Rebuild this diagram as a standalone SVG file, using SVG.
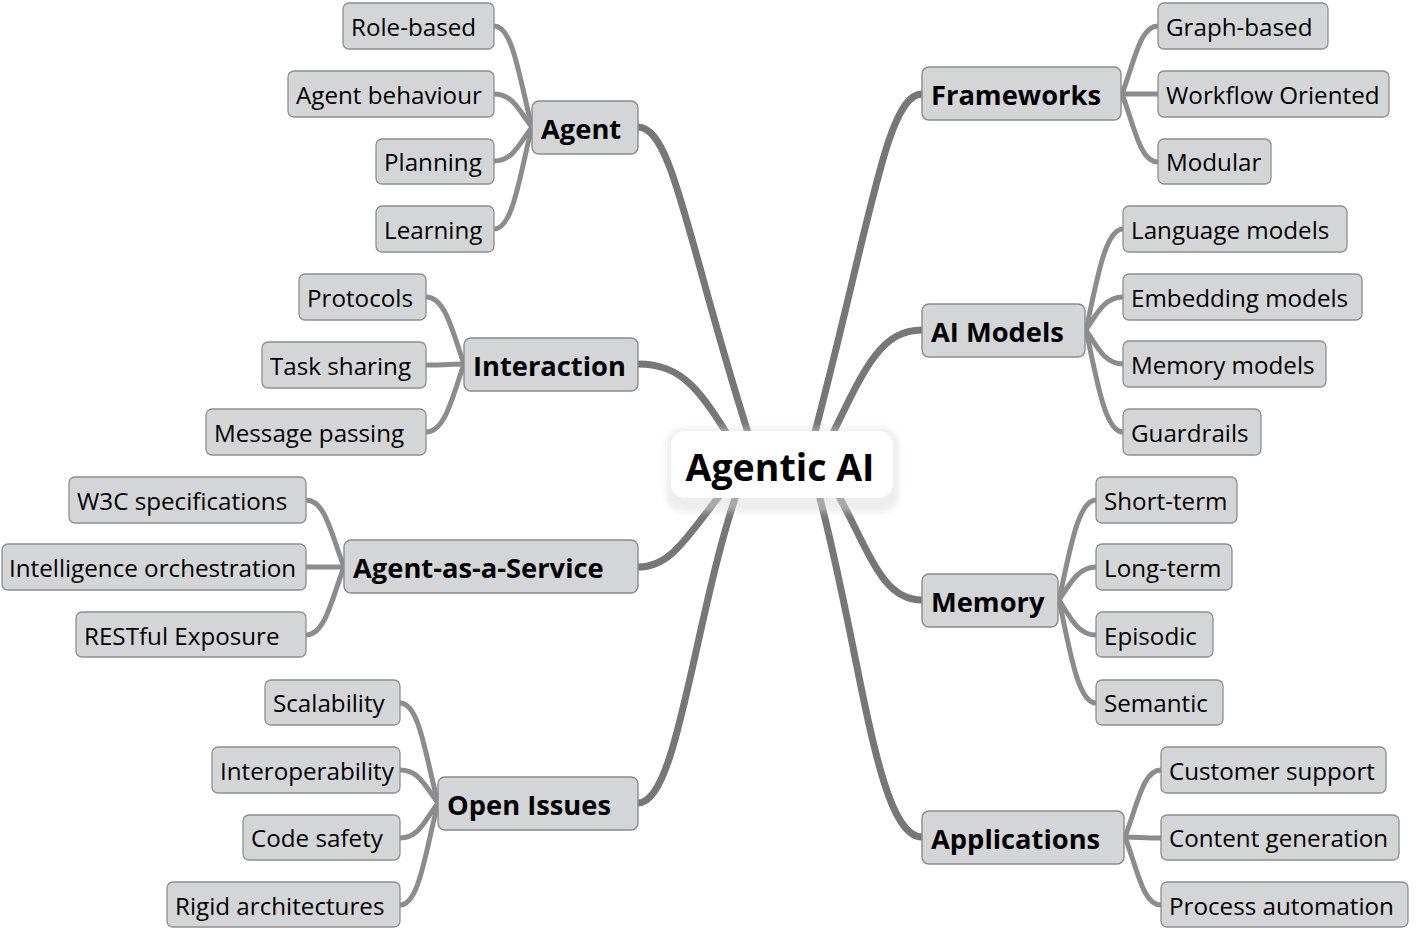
<svg xmlns="http://www.w3.org/2000/svg" width="1420" height="936" viewBox="0 0 1420 936">
<style>
.bg{fill:#ffffff}
.leaf rect{fill:#d4d5d7;stroke:#8f8f8f;stroke-width:1.3}
.leaf text{font-family:"Open Sans","Noto Sans",sans-serif;font-size:24.2px;fill:#000}
.branch rect{fill:#d4d5d7;stroke:#8a8a8a;stroke-width:1.4}
.branch text{font-family:"Open Sans","Noto Sans",sans-serif;font-size:27.3px;font-weight:bold;fill:#000}
.main{fill:none;stroke:#777777;stroke-width:7;stroke-linecap:round}
.sub{fill:none;stroke:#8c8c8c;stroke-width:5;stroke-linecap:round}
.center text{font-family:"Open Sans","Noto Sans",sans-serif;font-size:37.5px;font-weight:bold;fill:#000}
</style>
<defs>
<filter id="soft" x="-20%" y="-30%" width="140%" height="170%">
<feGaussianBlur stdDeviation="3"/>
</filter>
</defs>
<rect class="bg" x="0" y="0" width="1420" height="936"/>
<g id="connectors">
<path class="main" d="M638 127 C675 127 690 260 760 470"/>
<path class="main" d="M638 364 C690 364 705 400 750 470"/>
<path class="main" d="M638 567 C675 567 690 530 740 470"/>
<path class="main" d="M638 803 C680 803 695 600 745 470"/>
<path class="main" d="M922 94 C885 94 870 230 805 470"/>
<path class="main" d="M922 330 C875 330 860 380 815 470"/>
<path class="main" d="M922 600 C880 600 870 550 830 480"/>
<path class="main" d="M922 837 C875 837 860 640 815 480"/>
<path class="sub" d="M532 127 C519 77 513 26 494 26"/>
<path class="sub" d="M532 127 C519 111 513 94 494 94"/>
<path class="sub" d="M532 127 C519 144 513 161 494 161"/>
<path class="sub" d="M532 127 C519 178 513 229 494 229"/>
<path class="sub" d="M464 364 C452 330 445 297 426 297"/>
<path class="sub" d="M464 364 C452 364 445 365 426 365"/>
<path class="sub" d="M464 364 C452 398 445 432 426 432"/>
<path class="sub" d="M344 567 C331 533 325 500 306 500"/>
<path class="sub" d="M344 567 C331 567 325 567 306 567"/>
<path class="sub" d="M344 567 C331 601 325 635 306 635"/>
<path class="sub" d="M438 803 C425 753 419 703 400 703"/>
<path class="sub" d="M438 803 C425 786 419 770 400 770"/>
<path class="sub" d="M438 803 C425 820 419 838 400 838"/>
<path class="sub" d="M438 803 C425 854 419 905 400 905"/>
<path class="sub" d="M1122 94 C1135 60 1140 26 1158 26"/>
<path class="sub" d="M1122 94 C1135 94 1140 94 1158 94"/>
<path class="sub" d="M1122 94 C1135 128 1140 162 1158 162"/>
<path class="sub" d="M1086 330 C1097 280 1105 229 1123 229"/>
<path class="sub" d="M1086 330 C1097 313 1105 297 1123 297"/>
<path class="sub" d="M1086 330 C1097 347 1105 364 1123 364"/>
<path class="sub" d="M1086 330 C1097 381 1105 432 1123 432"/>
<path class="sub" d="M1059 600 C1070 550 1078 500 1096 500"/>
<path class="sub" d="M1059 600 C1070 584 1078 567 1096 567"/>
<path class="sub" d="M1059 600 C1070 617 1078 635 1096 635"/>
<path class="sub" d="M1059 600 C1070 652 1078 703 1096 703"/>
<path class="sub" d="M1125 837 C1138 803 1143 770 1161 770"/>
<path class="sub" d="M1125 837 C1138 837 1143 838 1161 838"/>
<path class="sub" d="M1125 837 C1138 871 1143 905 1161 905"/>
</g>
<g id="center" class="center">
<rect x="666" y="428" width="233" height="84" rx="17" fill="#dcdcdc" opacity="0.5" filter="url(#soft)"/>
<rect x="671" y="431" width="222" height="67" rx="14" fill="#ffffff"/>
<text x="780" y="481" text-anchor="middle">Agentic AI</text>
</g>
<g id="agent" class="branch"><rect x="532" y="101" width="106" height="53" rx="7"/><text x="541" y="139">Agent</text></g>
<g id="interaction" class="branch"><rect x="464" y="338" width="174" height="53" rx="7"/><text x="473" y="376">Interaction</text></g>
<g id="aaas" class="branch"><rect x="344" y="540" width="294" height="53" rx="7"/><text x="353" y="578">Agent-as-a-Service</text></g>
<g id="open-issues" class="branch"><rect x="438" y="777" width="200" height="53" rx="7"/><text x="447" y="815">Open Issues</text></g>
<g id="frameworks" class="branch"><rect x="922" y="67" width="199" height="53" rx="7"/><text x="931" y="105">Frameworks</text></g>
<g id="ai-models" class="branch"><rect x="922" y="304" width="163" height="53" rx="7"/><text x="931" y="342">AI Models</text></g>
<g id="memory" class="branch"><rect x="922" y="574" width="136" height="53" rx="7"/><text x="931" y="612">Memory</text></g>
<g id="applications" class="branch"><rect x="922" y="811" width="202" height="53" rx="7"/><text x="931" y="849">Applications</text></g>
<g id="role-based" class="leaf"><rect x="343" y="3" width="151" height="46" rx="6"/><text x="351" y="36">Role-based</text></g>
<g id="agent-behaviour" class="leaf"><rect x="288" y="71" width="206" height="46" rx="6"/><text x="296" y="104">Agent behaviour</text></g>
<g id="planning" class="leaf"><rect x="376" y="139" width="118" height="45" rx="6"/><text x="384" y="171">Planning</text></g>
<g id="learning" class="leaf"><rect x="376" y="206" width="118" height="46" rx="6"/><text x="384" y="239">Learning</text></g>
<g id="protocols" class="leaf"><rect x="299" y="274" width="127" height="46" rx="6"/><text x="307" y="307">Protocols</text></g>
<g id="task-sharing" class="leaf"><rect x="262" y="342" width="164" height="46" rx="6"/><text x="270" y="375">Task sharing</text></g>
<g id="message-passing" class="leaf"><rect x="206" y="409" width="220" height="46" rx="6"/><text x="214" y="442">Message passing</text></g>
<g id="w3c" class="leaf"><rect x="69" y="477" width="237" height="46" rx="6"/><text x="77" y="510">W3C specifications</text></g>
<g id="intelligence" class="leaf"><rect x="2" y="544" width="304" height="46" rx="6"/><text x="9" y="577">Intelligence orchestration</text></g>
<g id="restful" class="leaf"><rect x="76" y="612" width="230" height="45" rx="6"/><text x="84" y="645">RESTful Exposure</text></g>
<g id="scalability" class="leaf"><rect x="265" y="680" width="135" height="45" rx="6"/><text x="273" y="712">Scalability</text></g>
<g id="interoperability" class="leaf"><rect x="212" y="747" width="188" height="46" rx="6"/><text x="220" y="780">Interoperability</text></g>
<g id="code-safety" class="leaf"><rect x="243" y="815" width="157" height="45" rx="6"/><text x="251" y="847">Code safety</text></g>
<g id="rigid" class="leaf"><rect x="167" y="882" width="233" height="45" rx="6"/><text x="175" y="915">Rigid architectures</text></g>
<g id="graph-based" class="leaf"><rect x="1158" y="3" width="170" height="46" rx="6"/><text x="1166" y="36">Graph-based</text></g>
<g id="workflow" class="leaf"><rect x="1158" y="71" width="231" height="46" rx="6"/><text x="1166" y="104">Workflow Oriented</text></g>
<g id="modular" class="leaf"><rect x="1158" y="139" width="113" height="45" rx="6"/><text x="1166" y="171">Modular</text></g>
<g id="language-models" class="leaf"><rect x="1123" y="206" width="224" height="46" rx="6"/><text x="1131" y="239">Language models</text></g>
<g id="embedding-models" class="leaf"><rect x="1123" y="274" width="239" height="46" rx="6"/><text x="1131" y="307">Embedding models</text></g>
<g id="memory-models" class="leaf"><rect x="1123" y="341" width="203" height="46" rx="6"/><text x="1131" y="374">Memory models</text></g>
<g id="guardrails" class="leaf"><rect x="1123" y="409" width="138" height="46" rx="6"/><text x="1131" y="442">Guardrails</text></g>
<g id="short-term" class="leaf"><rect x="1096" y="477" width="141" height="46" rx="6"/><text x="1104" y="510">Short-term</text></g>
<g id="long-term" class="leaf"><rect x="1096" y="544" width="136" height="46" rx="6"/><text x="1104" y="577">Long-term</text></g>
<g id="episodic" class="leaf"><rect x="1096" y="612" width="117" height="45" rx="6"/><text x="1104" y="645">Episodic</text></g>
<g id="semantic" class="leaf"><rect x="1096" y="680" width="127" height="45" rx="6"/><text x="1104" y="712">Semantic</text></g>
<g id="customer-support" class="leaf"><rect x="1161" y="747" width="225" height="46" rx="6"/><text x="1169" y="780">Customer support</text></g>
<g id="content-generation" class="leaf"><rect x="1161" y="815" width="238" height="45" rx="6"/><text x="1169" y="847">Content generation</text></g>
<g id="process-automation" class="leaf"><rect x="1161" y="882" width="247" height="45" rx="6"/><text x="1169" y="915">Process automation</text></g>
</svg>
